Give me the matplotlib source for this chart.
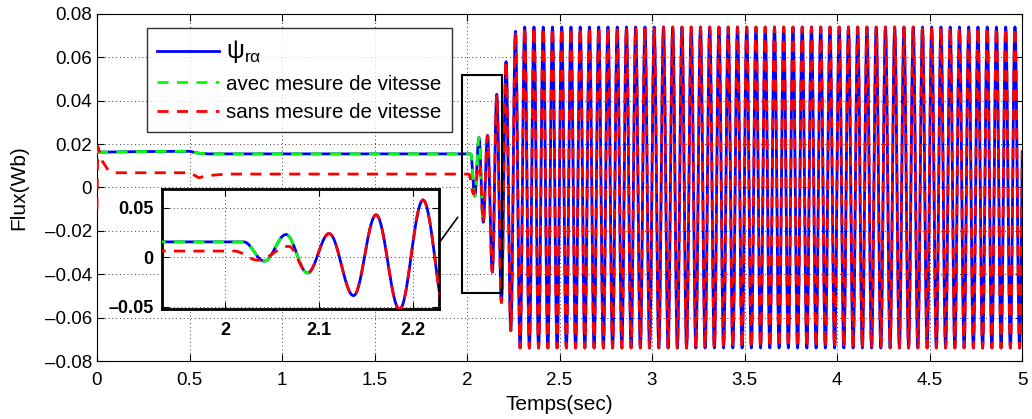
import numpy as np
import matplotlib
matplotlib.use("Agg")
import matplotlib.pyplot as plt
from matplotlib.patches import Rectangle, ConnectionPatch

# --- data ----------------------------------------------------------------
# slow part (keypoints, seconds / Wb)
blue_flat_t = [0.0, 0.3, 0.5, 0.55, 0.6, 2.02]
blue_flat_v = [0.0163, 0.0166, 0.0167, 0.0158, 0.0155, 0.0155]

red_flat_t = [0.0, 0.004, 0.03, 0.06, 0.1, 0.5, 0.53, 0.55, 0.6, 0.7, 2.01]
red_flat_v = [-0.010, 0.019, 0.012, 0.008, 0.0068, 0.0068, 0.0055, 0.0045, 0.0055, 0.0062, 0.0062]

# extrema of the start-up oscillation
blue_ext_t = [2.02, 2.042, 2.065, 2.088, 2.111, 2.137, 2.161, 2.186, 2.211, 2.237, 2.262, 2.287]
blue_ext_v = [0.0155, -0.004, 0.023, -0.016, 0.024, -0.039, 0.043, -0.053, 0.058, -0.066, 0.072, -0.074]

red_ext_t = [2.01, 2.035, 2.068, 2.088]
red_ext_v = [0.0062, -0.003, 0.011, -0.016]

# steady state after 2.29 s
steady_amp = 0.074
half_period = 0.025  # 20 Hz
t_end = 5.0

green_stop = 2.09


def through_extrema(times, values, n=14):
    t_out, v_out = [], []
    for t0, t1, v0, v1 in zip(times[:-1], times[1:], values[:-1], values[1:]):
        s = np.linspace(0, 1, n, endpoint=False)
        t_out.append(t0 + s * (t1 - t0))
        v_out.append(v0 + (v1 - v0) * (1 - np.cos(np.pi * s)) / 2)
    t_out.append([times[-1]])
    v_out.append([values[-1]])
    return np.concatenate(t_out), np.concatenate(v_out)


steady_t = list(np.arange(blue_ext_t[-1], t_end + half_period, half_period))
steady_v = [(-1) ** (k + 1) * steady_amp for k in range(len(steady_t))]

osc_t, osc_v = through_extrema(blue_ext_t + steady_t[1:], blue_ext_v + steady_v[1:])
blue_t = np.concatenate([blue_flat_t[:-1], osc_t])
blue_v = np.concatenate([blue_flat_v[:-1], osc_v])

red_tr_t, red_tr_v = through_extrema(red_ext_t, red_ext_v)
after = osc_t > red_ext_t[-1]
red_t = np.concatenate([red_flat_t[:-1], red_tr_t, osc_t[after]])
red_v = np.concatenate([red_flat_v[:-1], red_tr_v, osc_v[after]])

keep = blue_t <= green_stop
green_t, green_v = blue_t[keep], blue_v[keep]

# --- style ----------------------------------------------------------------
plt.rcParams["font.family"] = ["Liberation Sans", "DejaVu Sans"]
plt.rcParams["axes.unicode_minus"] = False
plt.rcParams["xtick.direction"] = "in"
plt.rcParams["ytick.direction"] = "in"

LW = 2.0
DASH = (4, 3)


def draw_series(ax):
    ax.plot(blue_t, blue_v, color="#0000ff", lw=LW, label=r"$\mathregular{\psi_{r\alpha}}$", zorder=2)
    ax.plot(green_t, green_v, color="#00ff00", lw=LW, dashes=DASH,
            label="avec mesure de vitesse", zorder=3)
    ax.plot(red_t, red_v, color="#ff0000", lw=LW, dashes=DASH,
            label="sans mesure de vitesse", zorder=4)


def matlab_grid(ax):
    ax.grid(True, color="black", lw=0.6, linestyle=(0, (1, 3.5)))
    ax.tick_params(top=True, right=True, length=5, width=0.8)


fig = plt.figure(figsize=(10.32, 4.19), dpi=100)
ax = fig.add_axes([97 / 1032, 1 - 361 / 419, 925 / 1032, 347 / 419])
draw_series(ax)
ax.set_xlim(0, 5)
ax.set_ylim(-0.08, 0.08)
ax.set_xticks(np.arange(0, 5.01, 0.5))
ax.set_xticklabels(["0", "0.5", "1", "1.5", "2", "2.5", "3", "3.5", "4", "4.5", "5"])
yt = np.arange(-0.08, 0.081, 0.02)
ax.set_yticks(yt)
ax.set_yticklabels(["0" if abs(v) < 1e-9 else f"{v:.2f}".replace("-", "\u2013") for v in yt])
ax.tick_params(labelsize=13.5)
ax.tick_params(axis="x", pad=8)
matlab_grid(ax)
ax.set_xlabel("Temps(sec)", fontsize=15)
ax.set_ylabel("Flux(Wb)", fontsize=15)
ax.xaxis.set_label_coords(0.5, (361 - 404) / 347, transform=ax.transAxes)
ax.yaxis.set_label_coords((19 - 97) / 925, 0.5, transform=ax.transAxes)
ax.xaxis.label.set_va("center")
ax.yaxis.label.set_va("center")

leg = ax.legend(loc="upper left", bbox_to_anchor=(50 / 925, 1 - 14 / 347), borderaxespad=0,
                frameon=True, fancybox=False, edgecolor="black", handlelength=3.0,
                borderpad=0.5, labelspacing=0.45, handletextpad=0.35,
                prop={"family": ["Liberation Sans", "DejaVu Sans"], "size": 14.8})
leg.get_frame().set_linewidth(1.0)
leg.get_texts()[0].set_fontsize(18)

ax.add_patch(Rectangle((1.973, -0.0485), 0.217, 0.1004, fill=False, ec="black", lw=1.5, zorder=6))

# inset zoom
axi = fig.add_axes([162 / 1032, 1 - 309 / 419, 277 / 1032, 120 / 419])
draw_series(axi)
axi.set_xlim(1.933, 2.228)
axi.set_ylim(-0.0524, 0.069)
axi.set_xticks([2.0, 2.1, 2.2])
axi.set_xticklabels(["2", "2.1", "2.2"])
axi.set_yticks([-0.05, 0.0, 0.05])
axi.set_yticklabels(["\u20130.05", "0", "0.05"])
matlab_grid(axi)
axi.tick_params(labelsize=13, pad=6)
axi.tick_params(axis="x", pad=9)
for lab in axi.get_xticklabels() + axi.get_yticklabels():
    lab.set_fontweight("bold")
for sp in axi.spines.values():
    sp.set_linewidth(2)

con = ConnectionPatch(xyA=(2.2277, 0.0139), coordsA=axi.transData,
                      xyB=(1.95, -0.0137), coordsB=ax.transData, color="black", lw=1.2)
fig.add_artist(con)

fig.savefig("out.png", dpi=100)
